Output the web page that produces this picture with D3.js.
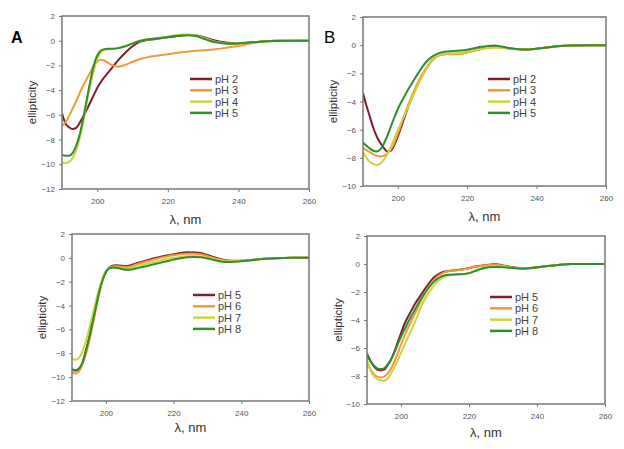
<!DOCTYPE html>
<html>
<head>
<meta charset="utf-8">
<script src="https://cdn.jsdelivr.net/npm/d3@7"></script>
<style>
  body { margin: 0; background: #fff; }
  svg { font-family: "Liberation Sans", Arial, sans-serif; }
  .tick text { fill: #555; font-size: 8px; }
  .tick line { stroke: #777; }
</style>
</head>
<body>
<div id="chart"></div>
<script>
/*global d3*/

// wavelength grid (nm) shared by every curve
const wavelengths = [190,191,192,193,194,195,196,197,198,199,200,201,202,203,204,206,208,210,212,214,216,218,220,222,224,226,228,230,232,234,236,238,240,243,246,250,255,260];

const xTicks = [200, 220, 240, 260];

// panel A
const labelsA = ["pH 2", "pH 3", "pH 4", "pH 5"];
const a_pH2 = [-5.9,-6.7,-7.0,-7.15,-7.05,-6.65,-6.15,-5.6,-5.0,-4.4,-3.8,-3.35,-2.95,-2.6,-2.25,-1.55,-0.95,-0.45,-0.1,0.05,0.12,0.2,0.28,0.35,0.42,0.47,0.42,0.3,0.12,-0.02,-0.12,-0.18,-0.2,-0.15,-0.08,0,0,0];
const a_pH3 = [-6.9,-6.6,-6.1,-5.5,-4.9,-4.25,-3.65,-3.1,-2.55,-2.0,-1.7,-1.55,-1.6,-1.8,-1.95,-2.1,-1.95,-1.7,-1.5,-1.35,-1.25,-1.17,-1.1,-1.0,-0.93,-0.87,-0.82,-0.78,-0.74,-0.68,-0.6,-0.5,-0.42,-0.25,-0.1,-0.02,0,0];
const a_pH4 = [-9.85,-9.9,-9.8,-9.5,-8.9,-7.9,-6.6,-5.0,-3.6,-2.4,-1.5,-0.95,-0.75,-0.7,-0.68,-0.6,-0.42,-0.22,-0.02,0.1,0.18,0.25,0.33,0.42,0.5,0.5,0.42,0.25,0.05,-0.1,-0.2,-0.22,-0.2,-0.15,-0.08,-0.02,0,0];
const a_pH5 = [-9.25,-9.3,-9.3,-9.1,-8.5,-7.6,-6.3,-4.8,-3.3,-2.0,-1.2,-0.8,-0.68,-0.65,-0.66,-0.6,-0.45,-0.22,-0.02,0.1,0.16,0.22,0.3,0.38,0.43,0.45,0.38,0.18,-0.02,-0.15,-0.22,-0.24,-0.22,-0.15,-0.08,-0.02,0,0];

// panel B
const labelsB = ["pH 2", "pH 3", "pH 4", "pH 5"];
const b_pH2 = [-3.4,-4.3,-5.1,-5.9,-6.5,-6.95,-7.3,-7.55,-7.5,-7.1,-6.5,-5.8,-5.1,-4.4,-3.75,-2.65,-1.75,-1.05,-0.7,-0.62,-0.62,-0.6,-0.5,-0.38,-0.25,-0.15,-0.1,-0.15,-0.22,-0.28,-0.3,-0.3,-0.25,-0.17,-0.08,-0.02,0,0];
const b_pH3 = [-7.3,-7.45,-7.6,-7.75,-7.85,-7.9,-7.85,-7.7,-7.4,-6.95,-6.3,-5.6,-4.9,-4.25,-3.65,-2.55,-1.7,-1.05,-0.72,-0.64,-0.64,-0.62,-0.52,-0.4,-0.28,-0.2,-0.15,-0.18,-0.22,-0.27,-0.3,-0.3,-0.25,-0.17,-0.08,-0.02,0,0];
const b_pH4 = [-7.6,-8.0,-8.3,-8.45,-8.5,-8.4,-8.15,-7.75,-7.25,-6.65,-6.05,-5.5,-4.95,-4.4,-3.85,-2.75,-1.8,-1.05,-0.7,-0.6,-0.58,-0.55,-0.48,-0.38,-0.28,-0.2,-0.17,-0.2,-0.24,-0.28,-0.3,-0.3,-0.25,-0.17,-0.08,-0.02,0,0];
const b_pH5 = [-6.9,-7.15,-7.35,-7.5,-7.55,-7.4,-7.0,-6.45,-5.8,-5.15,-4.55,-4.05,-3.6,-3.15,-2.75,-1.95,-1.25,-0.8,-0.55,-0.45,-0.42,-0.38,-0.32,-0.22,-0.12,-0.05,-0.02,-0.1,-0.2,-0.27,-0.3,-0.3,-0.25,-0.17,-0.08,-0.02,0,0];

// panel C
const labelsC = ["pH 5", "pH 6", "pH 7", "pH 8"];
const c_pH5 = [-9.3,-9.45,-9.35,-8.9,-7.9,-6.8,-5.5,-4.2,-2.9,-1.85,-1.15,-0.8,-0.65,-0.62,-0.65,-0.7,-0.55,-0.38,-0.22,-0.05,0.08,0.2,0.3,0.4,0.47,0.45,0.4,0.25,0.05,-0.12,-0.22,-0.25,-0.25,-0.18,-0.1,-0.03,0,0];
const c_pH6 = [-9.6,-9.7,-9.55,-9.0,-8.2,-7.1,-5.8,-4.4,-3.0,-1.9,-1.2,-0.85,-0.72,-0.7,-0.72,-0.78,-0.65,-0.47,-0.3,-0.15,0.0,0.12,0.22,0.3,0.35,0.35,0.3,0.15,-0.02,-0.15,-0.24,-0.27,-0.25,-0.18,-0.1,-0.03,0,0];
const c_pH7 = [-8.45,-8.55,-8.4,-7.9,-7.1,-6.0,-4.9,-3.7,-2.6,-1.75,-1.15,-0.85,-0.78,-0.8,-0.85,-0.9,-0.8,-0.65,-0.5,-0.35,-0.22,-0.1,0.0,0.08,0.14,0.15,0.1,0.0,-0.12,-0.22,-0.28,-0.28,-0.25,-0.18,-0.1,-0.03,0,0];
const c_pH8 = [-9.35,-9.45,-9.3,-8.85,-7.9,-6.8,-5.5,-4.2,-2.9,-1.9,-1.2,-0.88,-0.8,-0.82,-0.88,-1.0,-0.95,-0.82,-0.7,-0.55,-0.42,-0.28,-0.15,-0.03,0.05,0.08,0.05,-0.05,-0.18,-0.3,-0.35,-0.33,-0.28,-0.2,-0.1,-0.03,0,0];

// panel D
const labelsD = ["pH 5", "pH 6", "pH 7", "pH 8"];
const d_pH5 = [-6.4,-6.9,-7.3,-7.55,-7.6,-7.55,-7.25,-6.85,-6.3,-5.6,-4.95,-4.3,-3.8,-3.35,-2.9,-2.15,-1.45,-0.9,-0.6,-0.5,-0.45,-0.38,-0.28,-0.18,-0.1,-0.05,-0.02,-0.1,-0.2,-0.27,-0.3,-0.28,-0.23,-0.15,-0.07,0,0,0];
const d_pH6 = [-7.0,-7.5,-7.85,-8.05,-8.1,-8.05,-7.85,-7.5,-7.0,-6.4,-5.75,-5.15,-4.6,-4.1,-3.6,-2.6,-1.7,-1.05,-0.68,-0.52,-0.46,-0.4,-0.3,-0.2,-0.12,-0.08,-0.06,-0.12,-0.22,-0.28,-0.31,-0.29,-0.24,-0.15,-0.07,0,0,0];
const d_pH7 = [-6.9,-7.6,-8.0,-8.2,-8.3,-8.35,-8.2,-7.85,-7.4,-6.9,-6.35,-5.8,-5.25,-4.75,-4.2,-3.0,-2.1,-1.45,-1.0,-0.82,-0.76,-0.72,-0.66,-0.48,-0.3,-0.2,-0.18,-0.2,-0.24,-0.3,-0.33,-0.3,-0.24,-0.15,-0.07,0,0,0];
const d_pH8 = [-6.5,-6.95,-7.25,-7.45,-7.5,-7.45,-7.2,-6.85,-6.35,-5.75,-5.2,-4.7,-4.2,-3.75,-3.3,-2.45,-1.75,-1.2,-0.88,-0.76,-0.74,-0.73,-0.65,-0.48,-0.32,-0.24,-0.22,-0.24,-0.27,-0.31,-0.34,-0.3,-0.24,-0.15,-0.07,0,0,0];

const COLORS = ["#7d1f2e", "#f4993a", "#cdd43c", "#2f8f2f"];

let svg = d3.select("#chart")
  .append("svg")
  .attr("width", 624)
  .attr("height", 449);

// frame positions for each panel
let panels = [
  { id: "A", left: 62, right: 309, top: 16, bottom: 189, yMin: -12, series: [a_pH2, a_pH3, a_pH4, a_pH5], labels: labelsA,
    legX: 190, legY: 79, yTitleX: 32, xTitleY: 224 },
  { id: "B", left: 363, right: 606, top: 17, bottom: 186, yMin: -10, series: [b_pH2, b_pH3, b_pH4, b_pH5], labels: labelsB,
    legX: 488, legY: 79, yTitleX: 333, xTitleY: 221 },
  { id: "C", left: 72, right: 309, top: 234, bottom: 401, yMin: -12, series: [c_pH5, c_pH6, c_pH7, c_pH8], labels: labelsC,
    legX: 193, legY: 295, yTitleX: 42, xTitleY: 432 },
  { id: "D", left: 367, right: 605, top: 236, bottom: 404, yMin: -10, series: [d_pH5, d_pH6, d_pH7, d_pH8], labels: labelsD,
    legX: 490, legY: 297, yTitleX: 338, xTitleY: 437 }
];

panels.forEach(function (p, pi) {
  let w = p.right - p.left,
    h = p.bottom - p.top;

  let x = d3.scaleLinear().domain([190, 260]).range([0, w]);
  let y = d3.scaleLinear().domain([p.yMin, 2]).range([h, 0]);

  let g = svg.append("g")
    .attr("transform", "translate(" + p.left + "," + p.top + ")");

  g.append("clipPath").attr("id", "clip" + pi)
    .append("rect").attr("width", w).attr("height", h);

  // Y axis
  g.append("g")
    .call(d3.axisLeft(y).tickValues(d3.range(p.yMin, 2.1, 2)).tickSize(3).tickPadding(4))
    .select(".domain").remove();

  // X axis
  g.append("g")
    .attr("transform", "translate(0," + h + ")")
    .call(d3.axisBottom(x).tickValues(xTicks).tickSize(3).tickPadding(6))
    .select(".domain").remove();

  // curves
  let line = d3.line()
    .x(function (d, i) { return x(wavelengths[i]); })
    .y(function (d) { return y(d); })
    .curve(d3.curveMonotoneX);

  g.append("g")
    .attr("clip-path", "url(#clip" + pi + ")")
    .selectAll("path")
    .data(p.series)
    .enter()
    .append("path")
    .attr("d", line)
    .attr("fill", "none")
    .attr("stroke", function (d, i) { return COLORS[i]; })
    .attr("stroke-width", 2)
    .attr("stroke-linejoin", "round");

  // frame
  g.append("rect")
    .attr("width", w)
    .attr("height", h)
    .attr("fill", "none")
    .attr("stroke", "#777")
    .attr("stroke-width", 1.5);

  // legend
  let leg = svg.append("g")
    .attr("transform", "translate(" + p.legX + "," + p.legY + ")");
  p.labels.forEach(function (lab, i) {
    leg.append("line")
      .attr("x1", 0).attr("x2", 22)
      .attr("y1", i * 11.3).attr("y2", i * 11.3)
      .attr("stroke", COLORS[i])
      .attr("stroke-width", 2.5);
    leg.append("text")
      .attr("x", 25)
      .attr("y", i * 11.3 + 4)
      .attr("font-size", "11px")
      .attr("fill", "#444")
      .text(lab);
  });

  // axis titles
  svg.append("text")
    .attr("transform", "translate(" + p.yTitleX + "," + (p.top + h / 2) + ") rotate(-90)")
    .attr("text-anchor", "middle")
    .attr("dy", "0.35em")
    .attr("font-size", "11.5px")
    .attr("fill", "#333")
    .text("ellipticity");

  svg.append("text")
    .attr("x", p.left + w / 2)
    .attr("y", p.xTitleY)
    .attr("text-anchor", "middle")
    .attr("font-size", "13px")
    .attr("fill", "#333")
    .text("λ, nm");
});

// panel letters
svg.append("text")
  .attr("x", 11).attr("y", 43)
  .attr("font-size", "16px")
  .attr("font-weight", "bold")
  .text("A");

svg.append("text")
  .attr("x", 324).attr("y", 43)
  .attr("font-size", "17px")
  .text("B");
</script>
</body>
</html>
